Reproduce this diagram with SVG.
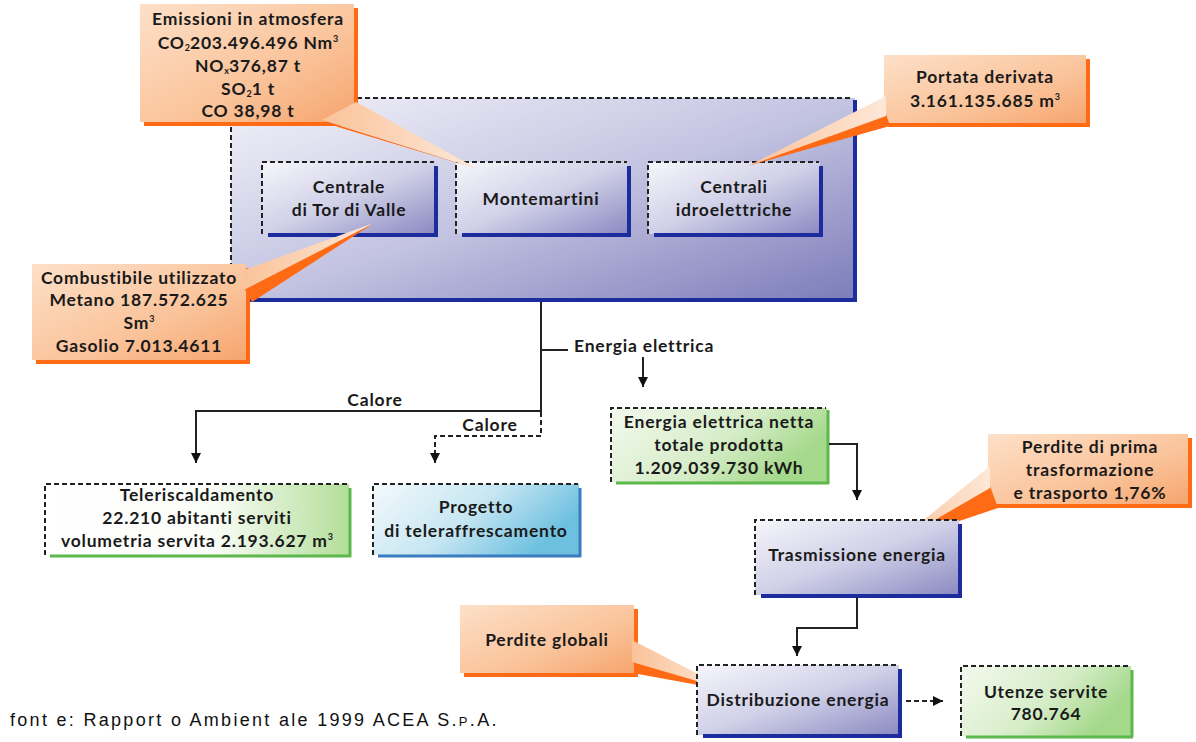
<svg xmlns="http://www.w3.org/2000/svg" width="1196" height="742" viewBox="0 0 1196 742">
<defs>
<style>
.t{font-family:Lato,"Open Sans","DejaVu Sans",sans-serif;font-weight:bold;font-size:17.5px;letter-spacing:0.8px;fill:#1a1a1a;text-anchor:middle}
.lbl{font-family:Lato,"Open Sans","DejaVu Sans",sans-serif;font-weight:bold;font-size:17.5px;letter-spacing:0.8px;fill:#1a1a1a}
.sub{font-size:9px;letter-spacing:0}
.dash{stroke:#222;stroke-width:2;stroke-dasharray:5 3;fill:none}
.be{stroke:#1c2c9c;stroke-width:4;fill:none}
.ge{stroke:#5cb84a;stroke-width:3;fill:none}
.ce{stroke:#3a7cc0;stroke-width:3;fill:none}
.sh{fill:#ff6a14}
.pk{fill:url(#gO)}
.wp{fill:url(#gW)}
.wo{fill:#ff6a14}
.ln{stroke:#222;stroke-width:2;fill:none}
.foot{font-family:"Liberation Sans",Arial,sans-serif;font-size:18px;fill:#111;letter-spacing:2.3px}
</style>
<linearGradient id="gBig" x1="0" y1="0" x2="1" y2="1">
<stop offset="0" stop-color="#f2f2f9"/><stop offset="0.5" stop-color="#c4c4e2"/><stop offset="1" stop-color="#7c7cba"/>
</linearGradient>
<linearGradient id="gB" x1="0" y1="0" x2="1" y2="1">
<stop offset="0" stop-color="#f6f6fb"/><stop offset="0.5" stop-color="#d0d0e8"/><stop offset="1" stop-color="#8a8ac2"/>
</linearGradient>
<linearGradient id="gG" x1="0" y1="0" x2="1" y2="0.4">
<stop offset="0" stop-color="#f3f9ee"/><stop offset="0.6" stop-color="#d6edc8"/><stop offset="1" stop-color="#a4d88a"/>
</linearGradient>
<linearGradient id="gT" x1="0" y1="0" x2="1" y2="0">
<stop offset="0" stop-color="#ffffff"/><stop offset="0.55" stop-color="#fbfdf9"/><stop offset="1" stop-color="#b2de98"/>
</linearGradient>
<linearGradient id="gC" x1="0" y1="0" x2="1" y2="0.4">
<stop offset="0" stop-color="#f4f9fc"/><stop offset="0.55" stop-color="#c6e6f2"/><stop offset="1" stop-color="#6ec0e0"/>
</linearGradient>
<linearGradient id="gO" x1="0" y1="0" x2="1" y2="1">
<stop offset="0" stop-color="#fde0c8"/><stop offset="0.6" stop-color="#fac39a"/><stop offset="1" stop-color="#f6a56e"/>
</linearGradient>
<linearGradient id="gW" x1="0" y1="0" x2="1" y2="0">
<stop offset="0" stop-color="#fac39a"/><stop offset="1" stop-color="#fde8d8"/>
</linearGradient>
<marker id="ah" viewBox="0 0 10 10" refX="10" refY="5" markerWidth="10" markerHeight="15" orient="auto" markerUnits="userSpaceOnUse">
<path d="M0,0 L10,5 L0,10 z" fill="#111"/>
</marker>
</defs>
<rect width="1196" height="742" fill="#ffffff"/>

<g id="impianti">
<rect x="231" y="98" width="624" height="202" fill="url(#gBig)"/>
<path class="be" d="M855,100 V302 M248,300 H857"/>
<path class="dash" d="M231,300 V98 H852"/>
</g>

<g id="tor-di-valle">
<rect x="262" y="162" width="173" height="72" fill="url(#gB)"/>
<path class="be" d="M436,166 V236 M268,235 H438"/>
<path class="dash" d="M262,234 V162 H434"/>
<text class="t" x="349" y="193">Centrale</text>
<text class="t" x="349" y="216">di Tor di Valle</text>
</g>

<g id="montemartini">
<rect x="456" y="162" width="172" height="72" fill="url(#gB)"/>
<path class="be" d="M629,166 V236 M462,235 H631"/>
<path class="dash" d="M456,234 V162 H627"/>
<text class="t" x="541" y="205">Montemartini</text>
</g>

<g id="idroelettriche">
<rect x="648" y="162" width="172" height="72" fill="url(#gB)"/>
<path class="be" d="M821,166 V236 M654,235 H823"/>
<path class="dash" d="M648,234 V162 H819"/>
<text class="t" x="734" y="193">Centrali</text>
<text class="t" x="734" y="216">idroelettriche</text>
</g>

<g id="emissioni">
<rect class="sh" x="144" y="8" width="214" height="118"/>
<rect class="pk" x="140" y="4" width="214" height="118"/>
<polygon class="wo" points="322,120 338,127 478,169"/>
<polygon class="wp" points="322,120 356,102 478,169"/>
<text class="t" x="248" y="25">Emissioni in atmosfera</text>
<text class="t" x="248" y="49">CO<tspan class="sub" dy="2">2</tspan><tspan dy="-2">203.496.496 Nm</tspan><tspan class="sub" dy="-7">3</tspan></text>
<text class="t" x="248" y="72">NO<tspan class="sub" dy="2">x</tspan><tspan dy="-2">376,87 t</tspan></text>
<text class="t" x="248" y="95">SO<tspan class="sub" dy="2">2</tspan><tspan dy="-2">1 t</tspan></text>
<text class="t" x="248" y="117">CO 38,98 t</text>
</g>

<g id="portata">
<rect class="sh" x="888" y="59" width="202" height="68"/>
<rect class="pk" x="884" y="55" width="202" height="68"/>
<polygon class="wo" points="886,114 890,126 748,166"/>
<polygon class="wp" points="886,96 886,116 748,166"/>
<text class="t" x="985" y="83">Portata derivata</text>
<text class="t" x="985" y="107">3.161.135.685 m<tspan class="sub" dy="-7">3</tspan></text>
</g>

<g id="combustibile">
<rect class="sh" x="36" y="268" width="214" height="96"/>
<rect class="pk" x="32" y="264" width="214" height="96"/>
<polygon class="wo" points="244,288 252,302 374,223"/>
<polygon class="wp" points="244,270 244,290 374,223"/>
<text class="t" x="139" y="284">Combustibile utilizzato</text>
<text class="t" x="139" y="306">Metano 187.572.625</text>
<text class="t" x="139" y="329">Sm<tspan class="sub" dy="-7">3</tspan></text>
<text class="t" x="139" y="352">Gasolio 7.013.4611</text>
</g>

<g id="perdite-prima">
<rect class="sh" x="992" y="438" width="200" height="70"/>
<rect class="pk" x="988" y="434" width="200" height="70"/>
<polygon class="wo" points="990,486 998,508 897,542"/>
<polygon class="wp" points="990,466 990,488 897,542"/>
<text class="t" x="1090" y="453">Perdite di prima</text>
<text class="t" x="1090" y="476">trasformazione</text>
<text class="t" x="1090" y="499">e trasporto 1,76%</text>
</g>

<g id="perdite-globali">
<rect class="sh" x="464" y="609" width="174" height="68"/>
<rect class="pk" x="460" y="605" width="174" height="68"/>
<polygon class="wo" points="632,660 638,674 731,691"/>
<polygon class="wp" points="632,640 632,662 731,691"/>
<text class="t" x="547" y="646">Perdite globali</text>
</g>

<g id="energia-netta">
<rect x="611" y="408" width="216" height="74" fill="url(#gG)"/>
<path class="ge" d="M828,410 V484 M616,483 H829"/>
<path class="dash" d="M611,482 V408 H826"/>
<text class="t" x="719" y="428">Energia elettrica netta</text>
<text class="t" x="719" y="451">totale prodotta</text>
<text class="t" x="719" y="474">1.209.039.730 kWh</text>
</g>

<g id="trasmissione">
<rect x="755" y="520" width="204" height="75" fill="url(#gB)"/>
<path class="be" d="M960,524 V597 M761,596 H962"/>
<path class="dash" d="M755,595 V520 H958"/>
<text class="t" x="857" y="561">Trasmissione energia</text>
</g>

<g id="distribuzione">
<rect x="697" y="665" width="202" height="70" fill="url(#gB)"/>
<path class="be" d="M900,669 V737 M703,736 H902"/>
<path class="dash" d="M697,735 V665 H898"/>
<text class="t" x="798" y="706">Distribuzione energia</text>
</g>

<g id="utenze">
<rect x="961" y="666" width="170" height="70" fill="url(#gG)"/>
<path class="ge" d="M1132,670 V737 M966,737 H1133"/>
<path class="dash" d="M961,736 V666 H1130"/>
<text class="t" x="1046" y="698">Utenze servite</text>
<text class="t" x="1046" y="720">780.764</text>
</g>

<g id="teleriscaldamento">
<rect x="45" y="484" width="304" height="71" fill="url(#gT)"/>
<path class="ge" d="M350,488 V557 M50,556 H351"/>
<path class="dash" d="M45,555 V484 H348"/>
<text class="t" x="197" y="501">Teleriscaldamento</text>
<text class="t" x="197" y="524">22.210 abitanti serviti</text>
<text class="t" x="197" y="547">volumetria servita 2.193.627 m<tspan class="sub" dy="-7">3</tspan></text>
</g>

<g id="teleraffrescamento">
<rect x="373" y="484" width="206" height="71" fill="url(#gC)"/>
<path class="ce" d="M580,488 V557 M378,556 H581"/>
<path class="dash" d="M373,555 V484 H578"/>
<text class="t" x="476" y="513">Progetto</text>
<text class="t" x="476" y="537">di teleraffrescamento</text>
</g>

<g id="connectors">
<path class="ln" d="M541,302 V411 H196 V463" marker-end="url(#ah)"/>
<path class="ln" d="M541,350 H568"/>
<path class="dash" d="M541,412 V436 H435 V463" marker-end="url(#ah)"/>
<path class="ln" d="M643,357 V387" marker-end="url(#ah)"/>
<path class="ln" d="M829,444 H857 V500" marker-end="url(#ah)"/>
<path class="ln" d="M857,597 V628 H797 V656" marker-end="url(#ah)"/>
<path class="dash" d="M906,701 H943" marker-end="url(#ah)"/>
<text class="lbl" x="574" y="352">Energia elettrica</text>
<text class="t" x="375" y="406">Calore</text>
<text class="t" x="490" y="431">Calore</text>
</g>

<text class="foot" x="10" y="726">font e: Rapport o Ambient ale 1999 ACEA S.<tspan font-size="13">P</tspan>.A.</text>
</svg>
